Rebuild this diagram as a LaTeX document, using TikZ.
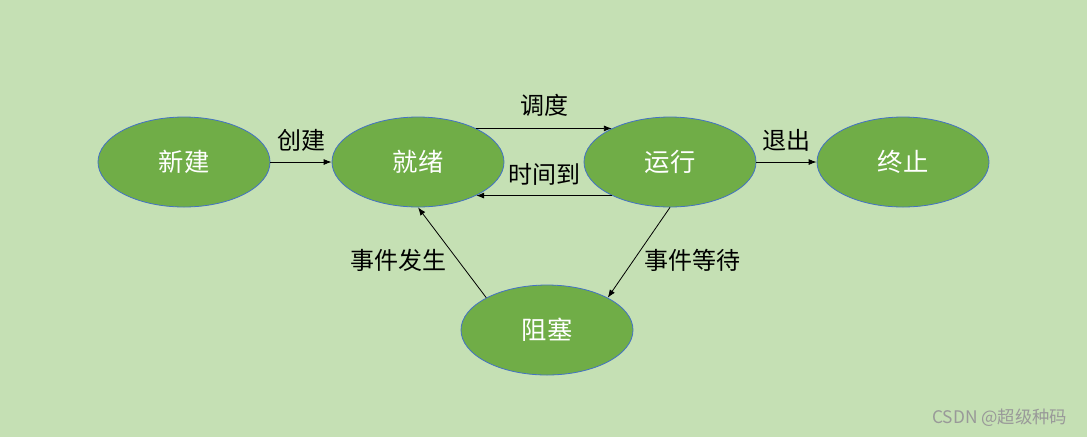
\documentclass[tikz,border=0pt]{standalone}
\usepackage{fontspec}
\setmainfont{Noto Sans CJK SC}
\usetikzlibrary{shapes.geometric,arrows.meta}
\definecolor{bgcol}{HTML}{C5E0B4}
\definecolor{statefill}{HTML}{70AD47}
\definecolor{stateline}{HTML}{4472C4}
\tikzset{
  state/.style={ellipse,fill=statefill,draw=stateline,line width=0.6pt,
    minimum width=129pt,minimum height=67.5pt,inner sep=0pt,
    text=white,font=\fontsize{19}{22}\selectfont},
  trans/.style={-{Latex[length=6pt,width=4.5pt]},line width=0.6pt},
  lbl/.style={font=\fontsize{18}{21}\selectfont,inner sep=0pt}
}
\begin{document}
\begin{tikzpicture}[x=0.75pt,y=-0.75pt]
            % background
            \fill[bgcol] (0,0) rectangle (1087,437);
            \useasboundingbox (0,0) rectangle (1087,437);
            % states
            \node[state] (xinjian) at (184,162) {新建};
            \node[state] (jiuxu) at (418,162) {就绪};
            \node[state] (yunxing) at (670,162) {运行};
            \node[state] (zhongzhi) at (903,162) {终止};
            \node[state] (zuse) at (547,330) {阻塞};
            % transitions
            \draw[trans] (xinjian) -- node[lbl,above=8pt] {创建} (jiuxu);
            \draw[trans] (jiuxu.30) -- node[lbl,above=9pt] {调度} (yunxing.150);
            \draw[trans] (yunxing.210) -- node[lbl,above=7pt] {时间到} (jiuxu.-30);
            \draw[trans] (yunxing) -- node[lbl,above=8pt] {退出} (zhongzhi);
            \draw[trans] (yunxing.south) -- node[lbl,right=4pt,yshift=-6pt] {事件等待} (zuse.28);
            \draw[trans] (zuse.152) -- node[lbl,left=4pt,yshift=-6pt] {事件发生} (jiuxu.south);
            % watermark
            \node[anchor=east,text=black!40,font=\fontsize{13}{15}\selectfont] (mark) at (1072,418) {CSDN @超级种码};
        \end{tikzpicture}
\end{document}
